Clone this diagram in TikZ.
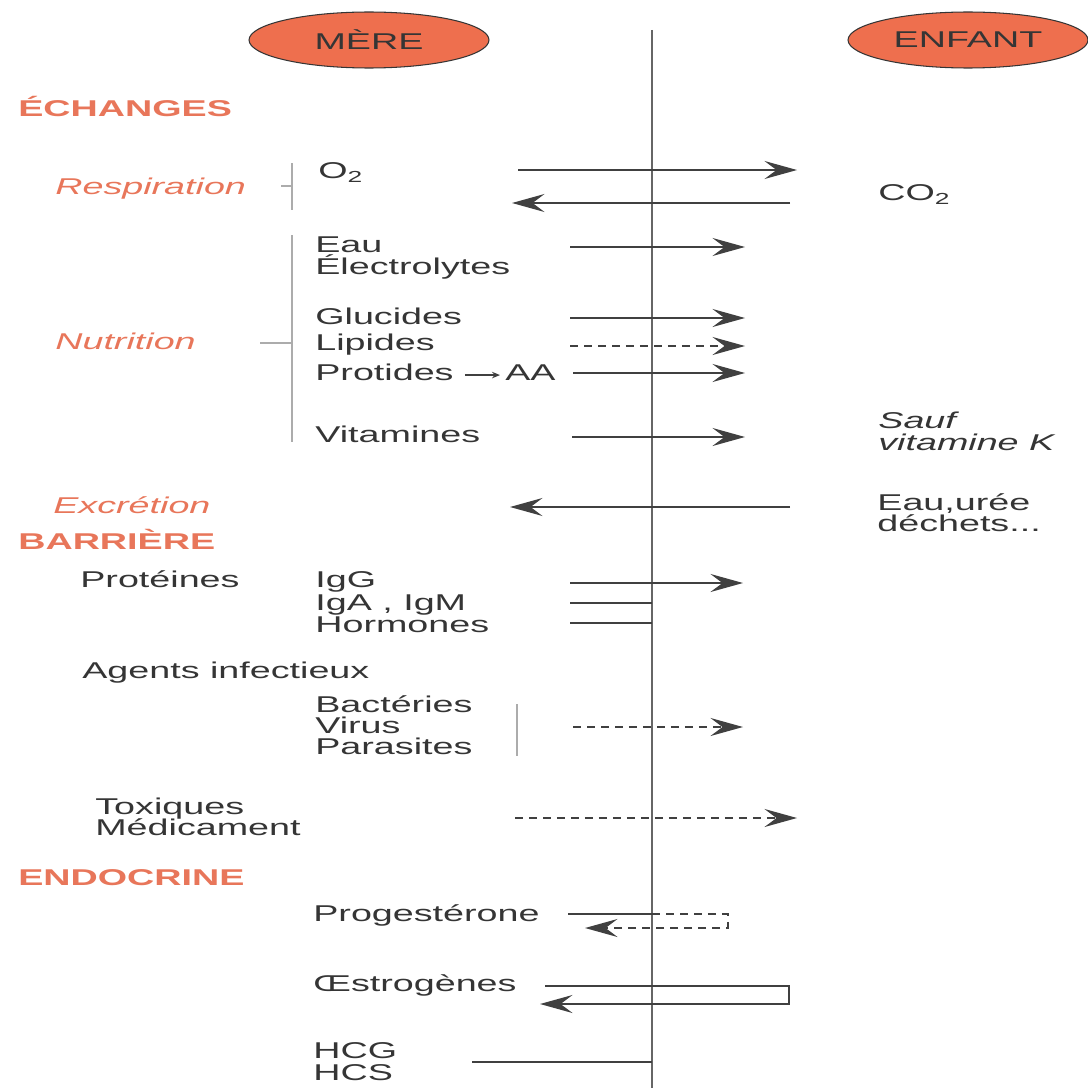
\documentclass[tikz,border=0pt]{standalone}
\usepackage{fontspec}
\setmainfont{Liberation Sans}[FakeStretch=1.65]
\usetikzlibrary{arrows.meta,shapes.geometric}

\definecolor{salmon}{HTML}{E8765A}
\definecolor{pillfill}{HTML}{EE6F4E}
\definecolor{ink}{HTML}{353535}
\definecolor{rule}{HTML}{404040}

\newcommand{\basefont}{\fontsize{13}{15}\selectfont}

\tikzset{
  lbl/.style={anchor=mid west, inner sep=0pt, yshift=-0.8mm,
    text height=1.4ex, text depth=0.2ex, text=ink, font=\basefont},
  head/.style={lbl, text=salmon, font=\basefont\bfseries},
  role/.style={lbl, text=salmon, font=\basefont\itshape},
  note/.style={lbl, font=\basefont\itshape},
  pill/.style={ellipse, draw=ink, fill=pillfill, line width=0.6pt,
    minimum width=4.8cm, minimum height=1.12cm, inner sep=0pt,
    text=ink, font=\basefont},
  link/.style={draw=rule, line width=0.4mm},
  flow/.style={link, -{Stealth[length=6.5mm,width=3.6mm,inset=2.4mm]}},
  maybe/.style={dash pattern=on 1.6mm off 1.2mm},
  brace/.style={draw=gray!65, line width=0.4mm}
}

\begin{document}
\begin{tikzpicture}[x=0.02cm, y=-0.02cm]
  \useasboundingbox (0,0) rectangle (1088,1088);

  % sides
  \node[pill] (mere)   at (369,40) {MÈRE};
  \node[pill] (enfant) at (968,40) {ENFANT};
  \coordinate (top) at (652,30);
  \coordinate (bot) at (652,1088);
  \draw[draw=gray!80!black, line width=0.55mm] (top) -- (bot);

  % headings
  \node[head] (ech) at (18,108) {ÉCHANGES};
  \node[head] (bar) at (18,541) {BARRIÈRE};
  \node[head] (end) at (18,877) {ENDOCRINE};

  \node[role] (resp) at (55,186) {Respiration};
  \node[role] (nutr) at (55,341) {Nutrition};
  \node[role] (excr) at (53,505) {Excrétion};

  % mother side
  \node[lbl] (o2)   at (318,170) {O\textsubscript{2}};
  \node[lbl] (eau)  at (315,244) {Eau};
  \node[lbl] (elec) at (315,266) {Électrolytes};
  \node[lbl] (glu)  at (315,316) {Glucides};
  \node[lbl] (lip)  at (315,342) {Lipides};
  \node[lbl] (pro)  at (315,372) {Protides};
  \node[lbl] (aa)   at (505,372) {AA};
  \node[lbl] (vit)  at (315,434) {Vitamines};

  \node[lbl] (prot) at (80,579)  {Protéines};
  \node[lbl] (igg)  at (315,579) {IgG};
  \node[lbl] (iga)  at (315,602) {IgA , IgM};
  \node[lbl] (horm) at (315,624) {Hormones};
  \node[lbl] (agen) at (82,670)  {Agents infectieux};
  \node[lbl] (bact) at (315,704) {Bactéries};
  \node[lbl] (vir)  at (315,725) {Virus};
  \node[lbl] (para) at (315,746) {Parasites};
  \node[lbl] (tox)  at (95,806)  {Toxiques};
  \node[lbl] (med)  at (95,827)  {Médicament};

  \node[lbl] (prog) at (313,913)  {Progestérone};
  \node[lbl] (oest) at (313,983)  {Œstrogènes};
  \node[lbl] (hcg)  at (313,1050) {HCG};
  \node[lbl] (hcs)  at (313,1072) {HCS};

  % child side
  \node[lbl]  (co2)  at (878,192) {CO\textsubscript{2}};
  \node[note] (sauf) at (878,420) {Sauf};
  \node[note] (vitk) at (878,442) {vitamine K};
  \node[lbl]  (uree) at (877,502) {Eau,urée};
  \node[lbl]  (dech) at (877,523) {déchets...};

  % brackets
  \draw[brace] (292,163) -- (292,210) (281,186) -- (292,186);
  \draw[brace] (292,235) -- (292,442) (260,343) -- (292,343);
  \draw[brace] (517,704) -- (517,756);

  % arrow ends
  \foreach \n/\y/\a/\b in {ao2/170/518/797, aco2/203/790/512,
      aeau/247/570/745, aglu/318/570/745, alip/346/570/745,
      apro/373/573/745, avit/437/572/745, aexc/507/790/510,
      aigg/583/570/743, aiga/603/570/652, ahor/623/570/652,
      ainf/727/573/743, atox/818/515/797, ahcg/1062/472/652}
    {\coordinate (\n-a) at (\a,\y); \coordinate (\n-b) at (\b,\y);}

  \path[flow] (ao2-a) -- (ao2-b);
  \path[flow] (aco2-a) -- (aco2-b);
  \path[flow] (aeau-a) -- (aeau-b);
  \path[flow] (aglu-a) -- (aglu-b);
  \path[flow, maybe] (alip-a) -- (alip-b);
  \path[flow] (apro-a) -- (apro-b);
  \path[flow] (avit-a) -- (avit-b);
  \path[flow] (aexc-a) -- (aexc-b);
  \path[flow] (aigg-a) -- (aigg-b);
  \path[link] (aiga-a) -- (aiga-b);
  \path[link] (ahor-a) -- (ahor-b);
  \path[flow, maybe] (ainf-a) -- (ainf-b);
  \path[flow, maybe] (atox-a) -- (atox-b);
  \path[link] (ahcg-a) -- (ahcg-b);

  \draw[draw=rule, line width=0.3mm, shorten <=2.2mm, shorten >=1mm,
    -{Stealth[length=1.6mm,width=1.3mm]}] (pro.east) -- (aa.west);

  % hormones going back
  \coordinate (pg-a) at (568,914);
  \coordinate (pg-m) at (652,914);
  \coordinate (pg-c) at (728,914);
  \coordinate (pg-d) at (728,928);
  \coordinate (pg-b) at (585,928);
  \path[link] (pg-a) -- (pg-m);
  \path[flow, maybe] (pg-m) -- (pg-c) -- (pg-d) -- (pg-b);

  \coordinate (oe-a) at (545,986);
  \coordinate (oe-c) at (789,986);
  \coordinate (oe-d) at (789,1004);
  \coordinate (oe-b) at (540,1004);
  \path[flow] (oe-a) -- (oe-c) -- (oe-d) -- (oe-b);
\end{tikzpicture}
\end{document}
